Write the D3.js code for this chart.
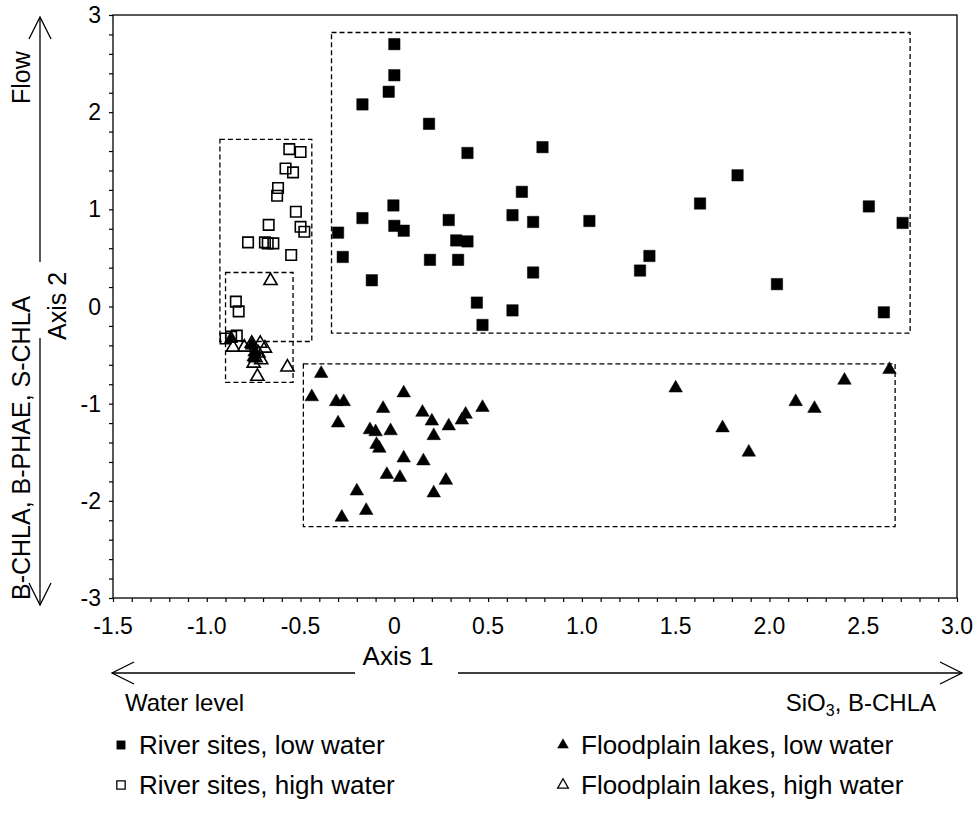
<!DOCTYPE html>
<html>
<head>
<meta charset="utf-8">
<script src="https://cdn.jsdelivr.net/npm/d3@7"></script>
<style>
  body { margin: 0; background: #fff; }
  text { font-family: "Liberation Sans", Arial, sans-serif; fill: #000; }
</style>
</head>
<body>
<script>
// ordination scores [axis 1, axis 2]
var riverLow = [
  [0.00, 2.70], [0.00, 2.38], [-0.03, 2.21], [-0.17, 2.08], [0.185, 1.88],
  [0.39, 1.58], [0.79, 1.64], [0.68, 1.18], [-0.005, 1.04], [-0.17, 0.91],
  [0.29, 0.89], [0.63, 0.94], [0.74, 0.87], [1.04, 0.88], [-0.30, 0.76],
  [0.00, 0.83], [0.05, 0.78], [0.33, 0.68], [0.39, 0.67], [-0.275, 0.51],
  [0.19, 0.48], [0.34, 0.48], [1.36, 0.52], [1.31, 0.37], [0.74, 0.35],
  [-0.12, 0.27], [0.44, 0.04], [0.63, -0.04], [0.47, -0.19], [1.83, 1.35],
  [1.63, 1.06], [2.53, 1.03], [2.71, 0.86], [2.04, 0.23], [2.61, -0.06]
];
var riverHigh = [
  [-0.56, 1.62], [-0.50, 1.59], [-0.58, 1.42], [-0.54, 1.38], [-0.62, 1.22],
  [-0.625, 1.14], [-0.525, 0.975], [-0.67, 0.84], [-0.50, 0.82], [-0.48, 0.77],
  [-0.78, 0.66], [-0.69, 0.66], [-0.675, 0.65], [-0.645, 0.65], [-0.55, 0.53],
  [-0.845, 0.05], [-0.83, -0.05], [-0.90, -0.33], [-0.84, -0.30], [-0.87, -0.31]
];
var lakesLow = [
  [-0.39, -0.69], [-0.44, -0.93], [-0.31, -0.98], [-0.27, -0.98], [-0.30, -1.20],
  [-0.06, -1.05], [0.05, -0.89], [-0.13, -1.27], [-0.10, -1.29], [-0.02, -1.28],
  [-0.095, -1.42], [-0.08, -1.46], [0.15, -1.09], [0.20, -1.18], [0.21, -1.33],
  [0.29, -1.23], [0.36, -1.17], [0.38, -1.11], [0.47, -1.04], [0.05, -1.56],
  [0.155, -1.59], [-0.04, -1.73], [0.03, -1.76], [0.275, -1.79], [0.21, -1.92],
  [-0.20, -1.90], [-0.15, -2.10], [-0.28, -2.17], [1.50, -0.84], [1.75, -1.25],
  [1.89, -1.50], [2.14, -0.98], [2.24, -1.05], [2.40, -0.76], [2.64, -0.65],
  [-0.87, -0.33], [-0.76, -0.40], [-0.745, -0.47], [-0.75, -0.52]
];
var lakesHigh = [
  [-0.66, 0.265], [-0.86, -0.42], [-0.80, -0.42], [-0.76, -0.38], [-0.715, -0.38],
  [-0.725, -0.48], [-0.74, -0.53], [-0.75, -0.585], [-0.57, -0.625], [-0.73, -0.72],
  [-0.71, -0.55], [-0.69, -0.43]
];
// dashed group outlines [x0, y0, x1, y1]
var groupBoxes = [
  [-0.335, 2.82, 2.75, -0.275],
  [-0.485, -0.59, 2.67, -2.265],
  [-0.93, 1.72, -0.44, -0.36],
  [-0.90, 0.35, -0.54, -0.78]
];
var xTicks = [-1.5, -1.0, -0.5, 0, 0.5, 1.0, 1.5, 2.0, 2.5, 3.0];
var xTickLabels = ["-1.5", "-1.0", "-0.5", "0", "0.5", "1.0", "1.5", "2.0", "2.5", "3.0"];
var yTicks = [-3, -2, -1, 0, 1, 2, 3];
var legendLabels = ["River sites, low water", "River sites, high water",
                    "Floodplain lakes, low water", "Floodplain lakes, high water"];

var margin = {top: 15, left: 113},
    width = 844,
    height = 583;

var x = d3.scaleLinear().domain([-1.5, 3.0]).range([0, width]);
var y = d3.scaleLinear().domain([-3, 3]).range([height, 0]);

var svgRoot = d3.select("body").append("svg")
    .attr("width", 974)
    .attr("height", 831);

var svg = svgRoot.append("g")
    .attr("transform", "translate(" + margin.left + "," + margin.top + ")");

// frame
svg.append("rect")
    .attr("width", width)
    .attr("height", height)
    .attr("fill", "none")
    .attr("stroke", "#000")
    .attr("stroke-width", 1.3);

// x axis: minor ticks every 0.1
var xAxis = svg.append("g")
    .attr("transform", "translate(0," + height + ")")
    .call(d3.axisBottom(x).tickValues(d3.range(-15, 31).map(function(d) { return d / 10; }))
        .tickSize(4).tickFormat(""));
xAxis.select(".domain").remove();
xAxis.selectAll("line").attr("stroke-width", 1.2);

svg.selectAll(".xlabel")
    .data(xTicks)
    .enter().append("text")
    .attr("class", "xlabel")
    .attr("x", function(d) { return x(d); })
    .attr("y", height + 36)
    .attr("text-anchor", "middle")
    .style("font-size", "23px")
    .text(function(d, i) { return xTickLabels[i]; });

// y axis: minor ticks every 0.2
var yAxis = svg.append("g")
    .call(d3.axisLeft(y).tickValues(d3.range(-15, 16).map(function(d) { return d / 5; }))
        .tickSize(4).tickFormat(""));
yAxis.select(".domain").remove();
yAxis.selectAll("line").attr("stroke-width", 1.2);

svg.selectAll(".ylabel")
    .data(yTicks)
    .enter().append("text")
    .attr("class", "ylabel")
    .attr("x", -12)
    .attr("y", function(d) { return y(d) + 8; })
    .attr("text-anchor", "end")
    .style("font-size", "23px")
    .text(function(d) { return d; });

// group outlines
svg.selectAll(".box")
    .data(groupBoxes)
    .enter().append("rect")
    .attr("class", "box")
    .attr("x", function(d) { return x(d[0]); })
    .attr("y", function(d) { return y(d[1]); })
    .attr("width", function(d) { return x(d[2]) - x(d[0]); })
    .attr("height", function(d) { return y(d[3]) - y(d[1]); })
    .attr("fill", "none")
    .attr("stroke", "#000")
    .attr("stroke-width", 1.3)
    .attr("stroke-dasharray", "5,3");

// points
var square = d3.symbol().type(d3.symbolSquare);
var triangle = d3.symbol().type(d3.symbolTriangle);

function drawPoints(data, sym, size, filled) {
  svg.append("g").selectAll("path")
      .data(data)
      .enter().append("path")
      .attr("d", sym.size(size)())
      .attr("transform", function(d) { return "translate(" + x(d[0]) + "," + y(d[1]) + ")"; })
      .attr("fill", filled ? "#000" : "none")
      .attr("stroke", "#000")
      .attr("stroke-width", filled ? 0.5 : 1.6);
}
drawPoints(riverHigh, square, 110, false);
drawPoints(lakesHigh, triangle, 75, false);
drawPoints(riverLow, square, 130, true);
drawPoints(lakesLow, triangle, 80, true);

// axis titles and direction arrows
svgRoot.append("text")
    .attr("x", 398).attr("y", 665)
    .attr("text-anchor", "middle")
    .style("font-size", "26px")
    .text("Axis 1");

svgRoot.append("text")
    .attr("transform", "translate(66,306) rotate(-90)")
    .attr("text-anchor", "middle")
    .style("font-size", "25px")
    .text("Axis 2");

var arrowLines = [
  [112, 673, 355, 673], [458, 673, 962, 673],
  [40, 17, 40, 262], [40, 338, 40, 605]
];
svgRoot.selectAll(".arrowline")
    .data(arrowLines)
    .enter().append("line")
    .attr("x1", function(d) { return d[0]; })
    .attr("y1", function(d) { return d[1]; })
    .attr("x2", function(d) { return d[2]; })
    .attr("y2", function(d) { return d[3]; })
    .attr("stroke", "#000")
    .attr("stroke-width", 1.3);

var heads = [
  "M134,662L112,673L134,684", "M940,662L962,673L940,684",
  "M29,39L40,17L51,39", "M29,583L40,605L51,583"
];
svgRoot.selectAll(".head")
    .data(heads)
    .enter().append("path")
    .attr("d", function(d) { return d; })
    .attr("fill", "none")
    .attr("stroke", "#000")
    .attr("stroke-width", 1.3);

svgRoot.append("text")
    .attr("x", 125).attr("y", 711)
    .style("font-size", "24px")
    .text("Water level");

var sio = svgRoot.append("text")
    .attr("x", 936).attr("y", 711)
    .attr("text-anchor", "end")
    .style("font-size", "24px");
sio.append("tspan").text("SiO");
sio.append("tspan").attr("dy", 5).style("font-size", "16px").text("3");
sio.append("tspan").attr("dy", -5).text(", B-CHLA");

svgRoot.append("text")
    .attr("transform", "translate(30,104) rotate(-90)")
    .style("font-size", "25px")
    .text("Flow");

svgRoot.append("text")
    .attr("transform", "translate(30,600) rotate(-90)")
    .style("font-size", "25px")
    .text("B-CHLA, B-PHAE, S-CHLA");

// legend
var legendPos = [[121, 745], [121, 785], [563, 745], [563, 785]];
var legendSym = [square, square, triangle, triangle];
var legendFill = [true, false, true, false];

var legend = svgRoot.selectAll(".legend")
    .data(legendLabels)
    .enter().append("g")
    .attr("class", "legend")
    .attr("transform", function(d, i) { return "translate(" + legendPos[i][0] + "," + legendPos[i][1] + ")"; });

legend.append("path")
    .attr("d", function(d, i) { return legendSym[i].size(i < 2 ? 70 : 50)(); })
    .attr("fill", function(d, i) { return legendFill[i] ? "#000" : "none"; })
    .attr("stroke", "#000")
    .attr("stroke-width", function(d, i) { return legendFill[i] ? 0.5 : 1.3; });

legend.append("text")
    .attr("x", 18)
    .attr("y", 9)
    .style("font-size", "26px")
    .text(function(d) { return d; });
</script>
</body>
</html>
